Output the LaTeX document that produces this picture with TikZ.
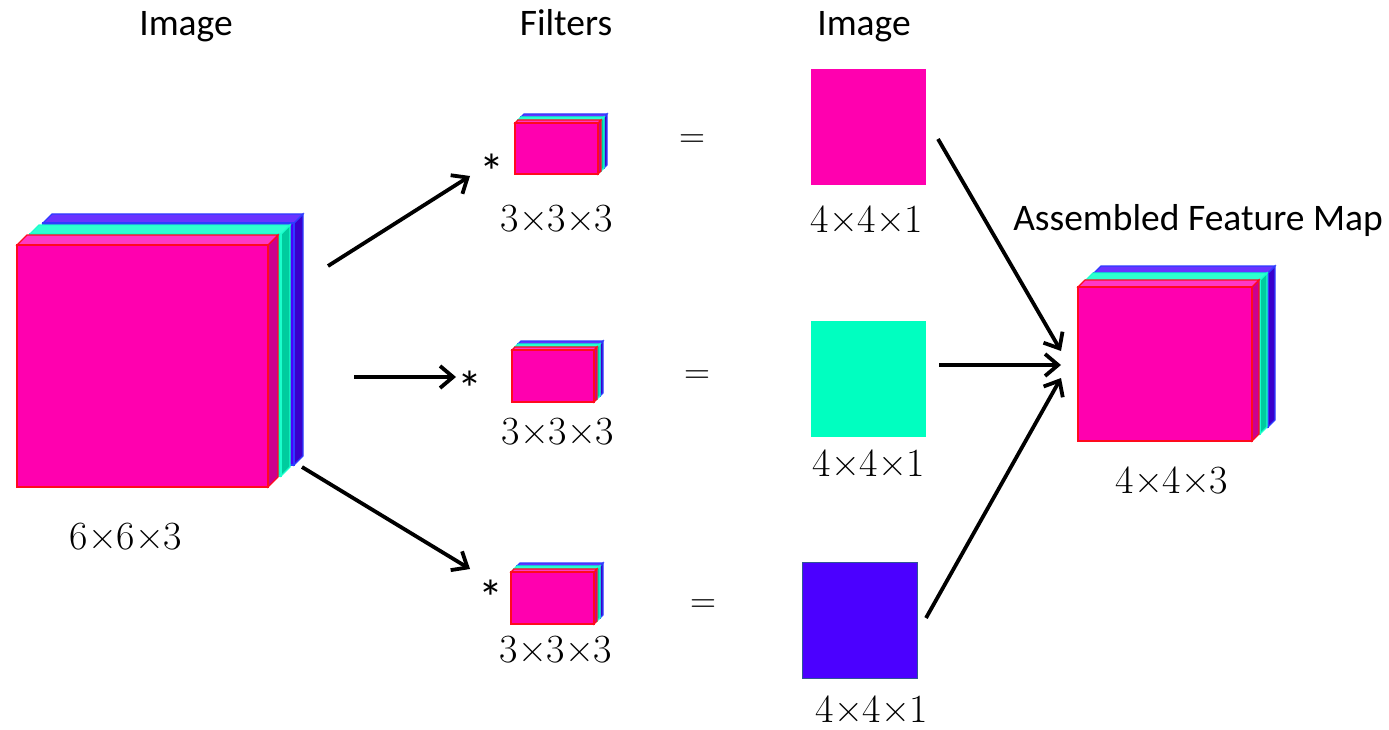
\documentclass[tikz,border=0pt]{standalone}
\usepackage{fontspec}
\newfontfamily\headfont{Carlito}
\usetikzlibrary{arrows.meta}

% face colours: F = front, T = top, S = side, B = border
\definecolor{pkF}{HTML}{FF00AF}
\definecolor{pkT}{HTML}{FF38C4}
\definecolor{pkS}{HTML}{CC008F}
\definecolor{pkB}{HTML}{FF0A1E}
\definecolor{cyF}{HTML}{00FFC0}
\definecolor{cyT}{HTML}{2EFFD0}
\definecolor{cyS}{HTML}{00CC9E}
\definecolor{cyB}{HTML}{1AFFCC}
\definecolor{blF}{HTML}{4B00FF}
\definecolor{blT}{HTML}{6A33FF}
\definecolor{blS}{HTML}{3A00CC}
\definecolor{blB}{HTML}{2E3CFF}
\definecolor{sqB}{HTML}{2F5597}

% one coloured slab: front rectangle (x0,y0)-(x1,y1), depth d, colour prefix
\newcommand\slab[6]{%
  \filldraw[draw=#6B, fill=#6S, slabedge] (#3,#2) -- ++(#5,-#5) -- (#3+#5,#4-#5) -- (#3,#4) -- cycle;
  \filldraw[draw=#6B, fill=#6T, slabedge] (#1,#2) -- ++(#5,-#5) -- (#3+#5,#2-#5) -- (#3,#2) -- cycle;
  \filldraw[draw=#6B, fill=#6F, slabedge] (#1,#2) rectangle (#3,#4);
}

\tikzset{
  slabedge/.style={line width=1.2pt, line join=miter},
  headlbl/.style={font=\headfont\fontsize{37.5}{44}\selectfont, inner sep=0pt, anchor=base},
  dimlbl/.style={font=\fontsize{40}{46}\selectfont, inner sep=0pt},
  oplbl/.style={font=\fontsize{36}{42}\selectfont, inner sep=0pt},
  starlbl/.style={font=\headfont\fontsize{50}{56}\selectfont, inner sep=0pt, anchor=base},
  mapsq/.style={minimum width=115pt, minimum height=116pt, inner sep=0pt, outer sep=0pt},
  flow/.style={line width=3.8pt, -{Straight Barb[length=13pt, width=22pt]}},
}

\begin{document}
\begin{tikzpicture}[x=1pt, y=-1pt]
\useasboundingbox (0,0) rectangle (1389,730);

% input volume 6x6x3
\slab{43}{223}{294}{465}{9}{bl}
\slab{30}{234}{281}{476}{9}{cy}
\slab{17}{245}{268}{487}{10}{pk}

% filters 3x3x3
\slab{521}{117}{604}{168}{3}{bl}
\slab{518}{120}{601}{171}{3}{cy}
\slab{515}{123}{598}{174}{3}{pk}

\slab{518}{344}{600}{396}{3}{bl}
\slab{515}{347}{597}{399}{3}{cy}
\slab{512}{350}{594}{402}{3}{pk}

\slab{517}{566}{600}{618}{3}{bl}
\slab{514}{569}{597}{621}{3}{cy}
\slab{511}{572}{594}{624}{3}{pk}

% assembled feature map 4x4x3
\slab{1094}{273}{1268}{427}{7}{bl}
\slab{1086}{280}{1260}{434}{7}{cy}
\slab{1078}{287}{1252}{441}{7}{pk}

% single-channel outputs 4x4x1
\node[mapsq, fill=pkF] (mapA) at (868.5,127) {};
\node[mapsq, fill=cyF] (mapB) at (868.5,379) {};
\node[mapsq, fill=blF, draw=sqB, line width=1pt] (mapC) at (859.5,620) {};

% headings
\node[headlbl] (hImg) at (186,36) {Image};
\node[headlbl] (hFlt) at (566,36) {Filters};
\node[headlbl] (hOut) at (864,36) {Image};
\node[headlbl] (hMap) at (1198,230) {Assembled Feature Map};

% sizes
\node[dimlbl] (dIn) at (126,537) {6\texttimes 6\texttimes 3};
\node[dimlbl] (dF1) at (557,219) {3\texttimes 3\texttimes 3};
\node[dimlbl] (dF2) at (558,432) {3\texttimes 3\texttimes 3};
\node[dimlbl] (dF3) at (556,650) {3\texttimes 3\texttimes 3};
\node[dimlbl] (dA) at (867,219) {4\texttimes 4\texttimes 1};
\node[dimlbl] (dB) at (869,463) {4\texttimes 4\texttimes 1};
\node[dimlbl] (dC) at (872,709) {4\texttimes 4\texttimes 1};
\node[dimlbl] (dMap) at (1172,480) {4\texttimes 4\texttimes 3};

% convolution and equality signs
\node[starlbl] (s1) at (492,190) {*};
\node[starlbl] (s2) at (470,406) {*};
\node[starlbl] (s3) at (491,615) {*};
\node[oplbl] (e1) at (692,141) {=};
\node[oplbl] (e2) at (697,377) {=};
\node[oplbl] (e3) at (703,606) {=};

% arrow end points
\coordinate (inA) at (328,266);
\coordinate (inB) at (354,377);
\coordinate (inC) at (302,467);
\coordinate (toF1) at (470,176);
\coordinate (toF2) at (456,377);
\coordinate (toF3) at (470,569);
\coordinate (fromA) at (938,139);
\coordinate (fromB) at (939,365);
\coordinate (fromC) at (926,618);
\coordinate (mapInA) at (1061,351);
\coordinate (mapInB) at (1061,365);
\coordinate (mapInC) at (1061,378);

\draw[flow] (inA) -- (toF1);
\draw[flow] (inB) -- (toF2);
\draw[flow] (inC) -- (toF3);
\draw[flow] (fromA) -- (mapInA);
\draw[flow] (fromB) -- (mapInB);
\draw[flow] (fromC) -- (mapInC);
\end{tikzpicture}
\end{document}
